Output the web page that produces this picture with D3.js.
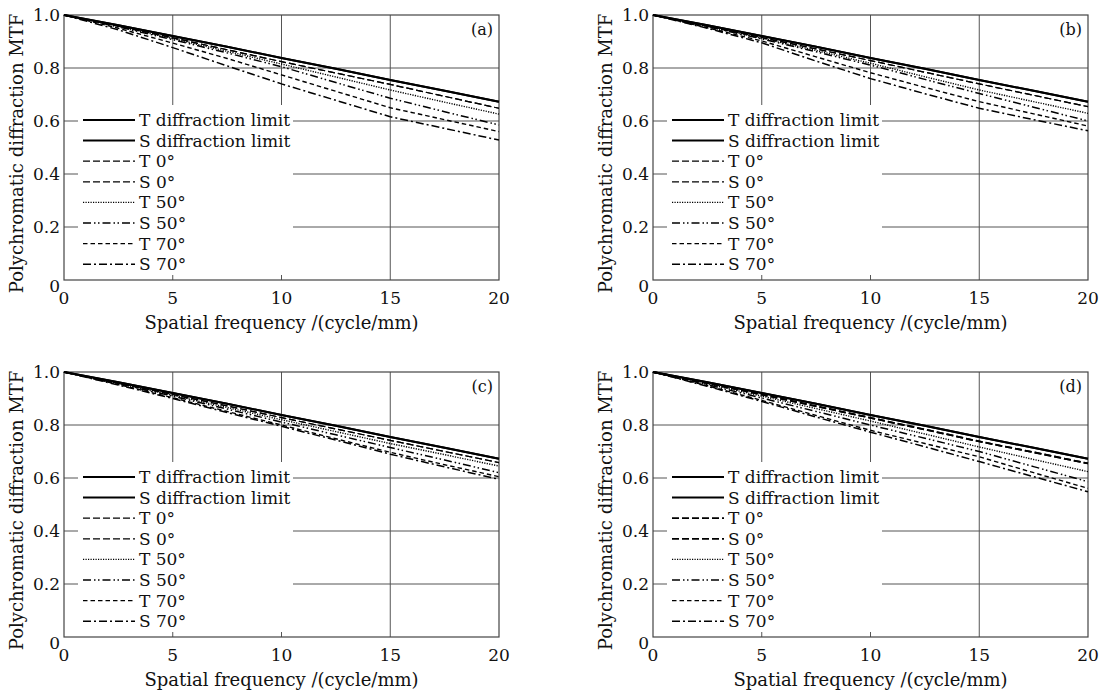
<!DOCTYPE html>
<html>
<head>
<meta charset="utf-8">
<script src="https://cdn.jsdelivr.net/npm/d3@7"></script>
<style>
  body { margin: 0; background: #fff; }
  svg text { font-family: "DejaVu Serif", serif; fill: #111; }
</style>
</head>
<body>
<svg id="chart" width="1113" height="693"></svg>
<script>
// spatial frequency samples (cycle/mm)
const freq = [0, 2.5, 5, 7.5, 10, 12.5, 15, 17.5, 20];
const xTicks = [0, 5, 10, 15, 20];
const yTicks = [0, 0.2, 0.4, 0.6, 0.8, 1.0];
const legendNames = ['T diffraction limit', 'S diffraction limit', 'T 0°', 'S 0°', 'T 50°', 'S 50°', 'T 70°', 'S 70°'];
const panelLabels = ['(a)', '(b)', '(c)', '(d)'];

// diffraction limit (T and S identical)
const diffLimit = [1, 0.961, 0.921, 0.880, 0.838, 0.797, 0.755, 0.714, 0.673];

// (a)
const a0  = [1, 0.958, 0.914, 0.869, 0.824, 0.781, 0.738, 0.693, 0.648];
const aT50 = [1, 0.957, 0.911, 0.863, 0.815, 0.766, 0.717, 0.671, 0.626];
const aS50 = [1, 0.955, 0.907, 0.857, 0.805, 0.745, 0.686, 0.635, 0.585];
const aT70 = [1, 0.950, 0.894, 0.836, 0.774, 0.712, 0.650, 0.605, 0.560];
const aS70 = [1, 0.944, 0.877, 0.808, 0.740, 0.678, 0.616, 0.572, 0.528];
// (b)
const b0  = [1, 0.958, 0.915, 0.872, 0.828, 0.784, 0.740, 0.697, 0.654];
const bT50 = [1, 0.957, 0.912, 0.866, 0.818, 0.767, 0.717, 0.673, 0.629];
const bS50 = [1, 0.956, 0.910, 0.861, 0.811, 0.757, 0.704, 0.652, 0.600];
const bT70 = [1, 0.952, 0.902, 0.842, 0.782, 0.727, 0.673, 0.627, 0.581];
const bS70 = [1, 0.950, 0.895, 0.826, 0.760, 0.703, 0.648, 0.605, 0.563];
// (c)
const c0  = [1, 0.958, 0.915, 0.872, 0.828, 0.785, 0.742, 0.700, 0.658];
const cT50 = [1, 0.957, 0.912, 0.866, 0.820, 0.775, 0.730, 0.688, 0.645];
const cS50 = [1, 0.956, 0.909, 0.860, 0.811, 0.763, 0.715, 0.668, 0.620];
const cT70 = [1, 0.953, 0.903, 0.851, 0.800, 0.748, 0.697, 0.650, 0.605];
const cS70 = [1, 0.951, 0.900, 0.847, 0.795, 0.743, 0.690, 0.642, 0.595];
// (d)
const d0  = [1, 0.958, 0.915, 0.871, 0.827, 0.783, 0.738, 0.697, 0.655];
const dT50 = [1, 0.955, 0.909, 0.862, 0.815, 0.766, 0.717, 0.670, 0.624];
const dS50 = [1, 0.952, 0.902, 0.851, 0.800, 0.750, 0.700, 0.643, 0.586];
const dT70 = [1, 0.948, 0.893, 0.836, 0.780, 0.730, 0.680, 0.620, 0.561];
const dS70 = [1, 0.946, 0.889, 0.830, 0.773, 0.718, 0.662, 0.605, 0.548];

const panels = [
  { label: panelLabels[0], left: 64,  top: 15,  series: [diffLimit, diffLimit, a0, a0, aT50, aS50, aT70, aS70], w0: 1.2 },
  { label: panelLabels[1], left: 653, top: 15,  series: [diffLimit, diffLimit, b0, b0, bT50, bS50, bT70, bS70], w0: 1.2 },
  { label: panelLabels[2], left: 64,  top: 372, series: [diffLimit, diffLimit, c0, c0, cT50, cS50, cT70, cS70], w0: 1.2 },
  { label: panelLabels[3], left: 653, top: 372, series: [diffLimit, diffLimit, d0, d0, dT50, dS50, dT70, dS70], w0: 1.8 }
];

// line styles for the 8 series
const styles = [
  { dash: null, w: 2 },
  { dash: null, w: 2 },
  { dash: '7,3', w: 1.2 },
  { dash: '7,3', w: 1.2 },
  { dash: '1.2,1.3', w: 1.4 },
  { dash: '8,3,1.5,2.5,1.5,3', w: 1.5 },
  { dash: '4.5,3', w: 1.4 },
  { dash: '8,3,2,3', w: 1.5 }
];

const W = 435, H = 265;
const svg = d3.select('#chart');

panels.forEach(p => {
  const g = svg.append('g').attr('transform', `translate(${p.left},${p.top})`);
  const x = d3.scaleLinear().domain([0, 20]).range([0, W]);
  const y = d3.scaleLinear().domain([0, 1]).range([H, 0]);

  // grid
  g.append('g').selectAll('line').data(xTicks.slice(1, -1)).join('line')
    .attr('x1', d => x(d)).attr('x2', d => x(d)).attr('y1', 0).attr('y2', H)
    .attr('stroke', '#555').attr('stroke-width', 1);
  g.append('g').selectAll('line').data(yTicks.slice(1, -1)).join('line')
    .attr('x1', 0).attr('x2', W).attr('y1', d => y(d)).attr('y2', d => y(d))
    .attr('stroke', '#555').attr('stroke-width', 1);

  // legend backdrop hides the grid behind it
  g.append('rect').attr('x', 14).attr('y', 90).attr('width', 215).attr('height', 170).attr('fill', '#fff');

  // frame
  g.append('rect').attr('x', 0).attr('y', 0).attr('width', W).attr('height', H)
    .attr('fill', 'none').attr('stroke', '#444').attr('stroke-width', 1.2);

  // curves
  const line = d3.line().x((d, i) => x(freq[i])).y(d => y(d));
  p.series.forEach((s, k) => {
    const st = styles[k];
    g.append('path').datum(s).attr('d', line)
      .attr('fill', 'none').attr('stroke', '#000')
      .attr('stroke-width', (k === 2 || k === 3) ? p.w0 : st.w)
      .attr('stroke-dasharray', st.dash);
  });

  // ticks labels
  g.append('g').selectAll('text').data(xTicks).join('text')
    .attr('x', d => x(d)).attr('y', H + 24).attr('text-anchor', 'middle')
    .attr('font-size', 17).text(d => d);
  g.append('g').selectAll('text').data(yTicks).join('text')
    .attr('x', -4).attr('y', d => d === 0 ? y(d) + 12 : y(d) + 6).attr('text-anchor', 'end')
    .attr('font-size', 17).text(d => d === 0 ? '0' : d3.format('.1f')(d));

  // axis titles
  g.append('text').attr('x', W / 2).attr('y', H + 49).attr('text-anchor', 'middle')
    .attr('font-size', 18).text('Spatial frequency /(cycle/mm)');
  g.append('text').attr('transform', `translate(-41,${H / 2 + 6}) rotate(-90)`)
    .attr('text-anchor', 'middle').attr('font-size', 18).text('Polychromatic diffraction MTF');

  // panel label
  g.append('text').attr('x', W - 6).attr('y', 20).attr('text-anchor', 'end')
    .attr('font-size', 16).text(p.label);

  // legend
  legendNames.forEach((name, k) => {
    const ly = 105 + k * 20.6;
    const st = styles[k];
    g.append('line').attr('x1', 19).attr('x2', 71).attr('y1', ly).attr('y2', ly)
      .attr('stroke', '#000')
      .attr('stroke-width', (k === 2 || k === 3) ? p.w0 : st.w)
      .attr('stroke-dasharray', st.dash);
    g.append('text').attr('x', 75).attr('y', ly + 6).attr('font-size', 17).text(name);
  });
});
</script>
</body>
</html>
